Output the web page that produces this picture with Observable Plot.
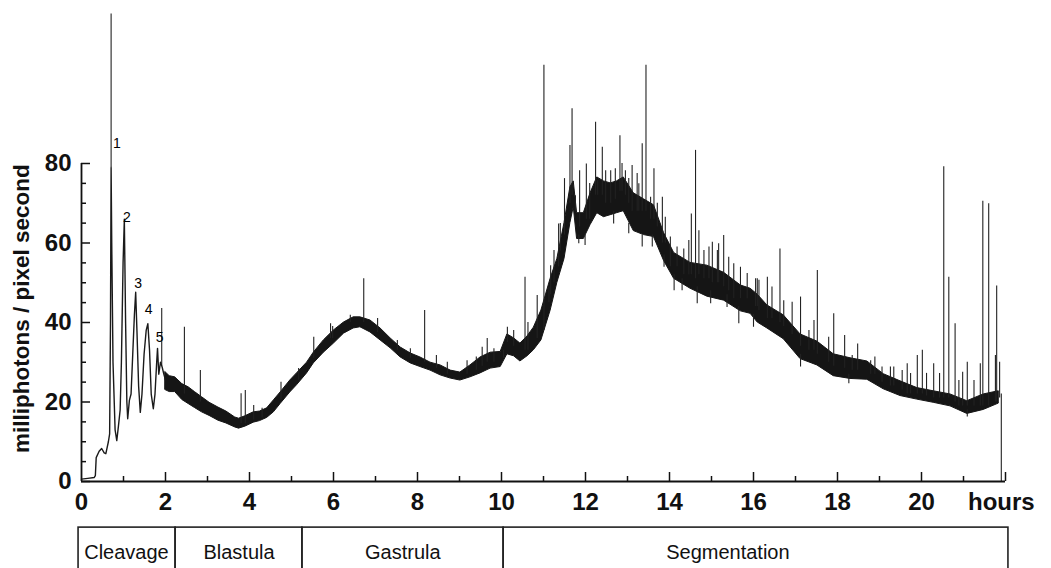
<!DOCTYPE html>
<html>
<head>
<meta charset="utf-8">
<script src="https://cdn.jsdelivr.net/npm/d3@7"></script>
<script src="https://cdn.jsdelivr.net/npm/@observablehq/plot@0.6"></script>
<style>
  html, body { margin: 0; padding: 0; background: #fff; }
  #chart svg { display: block; }
</style>
</head>
<body>
<div id="chart"></div>
<script>
// ---- Early cleavage trace (hours, milliphotons / pixel second)
const earlyHours  = [0, 0.15, 0.30, 0.33, 0.35, 0.42, 0.48, 0.54, 0.58, 0.64, 0.67, 0.69, 0.705, 0.72, 0.75, 0.80, 0.84, 0.88, 0.92, 0.95, 0.99, 1.02, 1.05, 1.08, 1.10, 1.14, 1.18, 1.22, 1.26, 1.29, 1.32, 1.36, 1.40, 1.44, 1.49, 1.54, 1.58, 1.62, 1.66, 1.71, 1.75, 1.79, 1.81, 1.84, 1.88, 1.92, 1.96, 2.00];
const earlyValues = [0.6, 0.8, 1.0, 1.5, 6.0, 7.6, 8.3, 7.2, 7.0, 10.0, 12.0, 40, 79, 60, 30, 13, 10.3, 14, 18, 30, 55, 66, 40, 20, 15.8, 20.4, 22, 32, 42, 47.6, 38, 24, 17.4, 22, 32, 38, 39.7, 33, 22, 18.3, 22, 30, 33.5, 27, 30, 28.8, 27, 25.5];

// ---- Noisy trace envelope after 2 h (lower / upper edge of the dense band)
const bandHours = [2.00, 2.10, 2.23, 2.40, 2.55, 2.70, 2.87, 3.05, 3.26, 3.45, 3.66, 3.75, 3.90, 4.10, 4.25, 4.42, 4.58, 4.74, 4.97, 5.13, 5.37, 5.53, 5.77, 6.01, 6.25, 6.48, 6.64, 6.88, 7.12, 7.36, 7.60, 7.84, 8.07, 8.31, 8.55, 8.79, 9.02, 9.26, 9.50, 9.74, 9.98, 10.14, 10.30, 10.45, 10.62, 10.77, 10.95, 11.17, 11.33, 11.50, 11.64, 11.72, 11.80, 11.96, 12.12, 12.28, 12.44, 12.60, 12.75, 12.91, 13.15, 13.39, 13.63, 13.87, 14.11, 14.50, 14.90, 15.30, 15.70, 15.93, 16.10, 16.33, 16.72, 17.12, 17.52, 17.91, 18.31, 18.71, 19.10, 19.50, 19.90, 20.29, 20.69, 21.09, 21.48, 21.84];
const bandLow   = [23.0, 22.5, 22.5, 20.5, 19.5, 18.5, 17.4, 16.5, 15.3, 14.6, 13.6, 13.3, 13.8, 14.8, 15.2, 16.0, 17.4, 19.5, 22.4, 24.2, 27.2, 29.7, 32.4, 34.7, 37.2, 38.5, 38.8, 37.5, 35.5, 33.5, 31.2, 29.7, 28.8, 27.9, 26.7, 25.9, 25.4, 26.2, 27.2, 28.4, 28.8, 32.0, 31.5, 30.2, 31.5, 33.0, 35.5, 43.0, 50.0, 56.0, 65.0, 69.0, 61.0, 61.0, 64.5, 67.5, 66.5, 67.0, 67.5, 68.0, 63.0, 62.0, 61.5, 55.5, 51.0, 48.5, 46.5, 45.5, 42.8, 42.2, 40.0, 38.5, 35.8, 30.8, 29.2, 26.5, 25.8, 25.6, 23.2, 21.5, 20.6, 19.8, 18.9, 17.0, 18.0, 19.6];
const bandHigh  = [27.5, 26.5, 26.2, 24.5, 23.7, 22.5, 21.2, 19.8, 18.6, 17.6, 16.1, 15.8, 16.4, 17.4, 17.6, 18.4, 20.4, 22.4, 25.4, 27.2, 29.9, 32.4, 35.5, 38.0, 40.0, 41.3, 41.3, 40.5, 38.5, 36.0, 33.7, 32.2, 31.2, 29.9, 29.2, 27.9, 27.4, 29.2, 31.2, 32.4, 32.6, 37.0, 36.0, 34.7, 36.5, 38.7, 43.0, 51.0, 56.0, 65.0, 74.0, 75.5, 67.5, 67.5, 72.5, 76.5, 75.5, 75.0, 75.5, 76.5, 72.5, 71.0, 69.5, 62.5, 57.5, 55.0, 54.3, 52.5, 49.3, 48.5, 47.0, 44.3, 41.8, 37.0, 35.2, 32.0, 31.0, 30.2, 27.0, 25.2, 23.5, 22.7, 21.9, 20.2, 21.9, 22.7];

// ---- Individual flashes (spikes and dips): hour, value where they leave the trace, value they reach
const spikeHours = [0.705, 1.91, 2.45, 2.83, 3.80, 3.90, 4.10, 4.30, 4.75, 5.17, 5.53, 5.93, 5.98, 6.40, 6.72, 7.05, 7.52, 7.83, 8.17, 8.45, 8.71, 9.18, 9.40, 9.54, 9.66, 9.82, 10.05, 10.14, 10.29, 10.56, 10.63, 10.85, 11.01, 11.13, 11.17, 11.25, 11.36, 11.40, 11.50, 11.63, 11.68, 11.76, 11.84, 11.86, 11.99, 12.02, 12.10, 12.24, 12.29, 12.40, 12.48, 12.60, 12.67, 12.71, 12.82, 12.87, 12.95, 13.03, 13.03, 13.11, 13.23, 13.27, 13.35, 13.35, 13.44, 13.55, 13.59, 13.63, 13.71, 13.83, 13.87, 13.90, 14.02, 14.11, 14.18, 14.30, 14.34, 14.46, 14.52, 14.62, 14.66, 14.70, 14.82, 14.94, 14.98, 15.02, 15.14, 15.17, 15.29, 15.37, 15.41, 15.53, 15.65, 15.69, 15.85, 16.00, 16.05, 16.09, 16.13, 16.33, 16.44, 16.63, 16.72, 16.92, 17.12, 17.12, 17.32, 17.44, 17.52, 17.79, 17.91, 18.17, 18.27, 18.35, 18.48, 18.79, 18.89, 19.06, 19.26, 19.34, 19.54, 19.66, 19.74, 19.90, 20.02, 20.12, 20.29, 20.43, 20.53, 20.65, 20.80, 20.89, 20.98, 21.09, 21.09, 21.25, 21.40, 21.46, 21.60, 21.76, 21.79, 21.86, 21.90];
const spikeBase  = [79, 29, 22, 20, 14.5, 14.5, 15.5, 16, 20.5, 25.5, 31, 36, 36, 40, 40, 37.5, 33, 31, 30, 28.5, 27, 27, 28, 29, 30, 30, 31, 35, 34, 33, 33, 36, 38, 45, 47, 50, 54, 58, 62, 70, 72, 68, 62, 64, 62, 66, 66, 72, 72, 72, 70, 70, 68, 71, 73, 73, 72, 70, 65, 68, 68, 68, 68, 62, 68, 66, 62, 66, 64, 60, 57, 60, 54, 52, 54, 51, 52, 52, 52, 51, 49, 52, 51, 51, 48, 50, 50, 50, 49, 47, 48, 46, 44, 46, 46, 42, 44, 44, 43, 41, 41, 40, 39, 37, 34, 32, 33, 33, 32, 30, 29, 28.5, 27, 28, 28, 27, 27, 25, 24, 24, 23, 22, 22, 22, 22, 21.5, 21, 21, 21, 21, 20, 19, 19, 19, 18, 19, 19, 19, 19, 20, 20, 21, 22];
const spikeTop   = [117.6, 43.5, 38.8, 27.9, 22.1, 22.9, 19.1, 18.4, 25, 28.4, 36.3, 39.7, 39, 41.8, 51, 41, 35.5, 33.4, 43, 31.7, 30, 30.4, 31.3, 33.8, 36, 33.4, 33, 38.8, 38, 51.4, 40, 46.8, 104.7, 48.9, 54.3, 58.1, 64.8, 64.9, 76.2, 84.5, 93.8, 71.9, 59.8, 78.2, 59.4, 79.9, 75, 90.4, 75.7, 84.1, 78.2, 78.2, 64.8, 78.7, 87.0, 80, 78.2, 76.2, 62.3, 79.5, 77.5, 74.9, 85, 59, 104.7, 71.5, 59, 78.7, 70, 71.5, 53.9, 66.5, 61.5, 48, 59, 48, 58.5, 60.6, 67.3, 83.3, 44.7, 63.1, 58.1, 59, 44.7, 60.2, 58.1, 59.8, 61.9, 43.8, 56.4, 54.8, 39.7, 53.9, 52.3, 38.8, 51, 51, 50.6, 51.4, 48.9, 58.5, 45.5, 45.1, 46.4, 28.8, 38, 40.5, 53.1, 36.3, 42.2, 36.7, 24.6, 31.7, 34.6, 30.4, 31.3, 28.8, 28.8, 28.8, 27.9, 29.6, 27.2, 31.7, 33, 27.2, 29.6, 27.2, 79.2, 51.4, 39.7, 25.4, 27.5, 30, 16.2, 25.4, 29.6, 70.5, 69.9, 31.7, 49.2, 30, 0];

// ---- Cleavage peak numbers
const peakLabels      = ["1", "2", "3", "4", "5"];
const peakLabelHours  = [0.84, 1.08, 1.35, 1.60, 1.86];
const peakLabelValues = [85, 66.5, 49.7, 43.2, 36.3];

// ---- Developmental stages
const stageNames      = ["Cleavage", "Blastula", "Gastrula", "Segmentation"];
const stageStart      = [-0.07, 2.24, 5.26, 10.05];
const stageEnd        = [2.24, 5.26, 10.05, 22.07];
const stageLabelHours = [1.07, 3.75, 7.65, 15.39];

// ---- Axes
const xMajorTicks = [2, 4, 6, 8, 10, 12, 14, 16, 18, 20, 22];
const xMinorTicks = [1, 3, 5, 7, 9, 11, 13, 15, 17, 19, 21];
const xTickLabels = ["0", "2", "4", "6", "8", "10", "12", "14", "16", "18", "20"];
const xTickLabelHours = [0, 2, 4, 6, 8, 10, 12, 14, 16, 18, 20];
const yMajorTicks = [0, 20, 40, 60, 80];
const yMinorTicks = [5, 10, 15, 25, 30, 35, 45, 50, 55, 65, 70, 75];
const yTickLabels = ["0", "20", "40", "60", "80"];
const yTitle = "milliphotons / pixel second";
const xUnit = "hours";

// ---- build tables
const early = earlyHours.map((h, i) => ({h, v: earlyValues[i]}));
const band = bandHours.map((h, i) => ({h, lo: bandLow[i], hi: bandHigh[i]}));
const spikes = spikeHours.map((h, i) => ({h, b: spikeBase[i], t: spikeTop[i]}));
const peaks = peakLabels.map((s, i) => ({s, h: peakLabelHours[i], v: peakLabelValues[i]}));
const stages = stageNames.map((n, i) => ({n, a: stageStart[i], b: stageEnd[i], c: stageLabelHours[i]}));
const xLabs = xTickLabels.map((s, i) => ({s, h: xTickLabelHours[i]}));
const yLabs = yTickLabels.map((s, i) => ({s, v: yMajorTicks[i]}));

const W = 1051, H = 568, ML = 81, MR = 46, MT = 163, MB = 87;
const frameW = W - ML - MR, frameH = H - MT - MB;
const ink = "#111";
const font = "Liberation Sans, Arial, Helvetica, sans-serif";

const chart = Plot.plot({
  width: W, height: H,
  marginLeft: ML, marginRight: MR, marginTop: MT, marginBottom: MB,
  x: {domain: [0, 22], axis: null},
  y: {domain: [0, 80], axis: null},
  style: {fontFamily: font, background: "#fff", color: ink},
  marks: [
    // data
    Plot.areaY(band, {x: "h", y1: "lo", y2: "hi", fill: "#151515", stroke: "#151515", strokeWidth: 1, curve: "linear"}),
    Plot.ruleX(spikes, {x: "h", y1: "b", y2: "t", stroke: "#222", strokeWidth: 1.1}),
    Plot.line(early, {x: "h", y: "v", stroke: "#1a1a1a", strokeWidth: 1.4, curve: "linear"}),
    Plot.text(peaks, {x: "h", y: "v", text: "s", fontSize: 14, fill: "#000"}),
    // axes lines
    Plot.ruleY([0], {x1: 0, x2: 22, stroke: ink, strokeWidth: 1.8}),
    Plot.ruleX([0], {y1: 0, y2: 80, stroke: ink, strokeWidth: 1.8}),
    Plot.tickX(xMajorTicks, {x: d => d, insetTop: frameH - 9, stroke: ink, strokeWidth: 1.5}),
    Plot.tickX(xMinorTicks, {x: d => d, insetTop: frameH - 5, stroke: ink, strokeWidth: 1.5}),
    Plot.tickY(yMajorTicks, {y: d => d, insetRight: frameW - 9, stroke: ink, strokeWidth: 1.5}),
    Plot.tickY(yMinorTicks, {y: d => d, insetRight: frameW - 5, stroke: ink, strokeWidth: 1.5}),
    // tick labels
    Plot.text(xLabs, {x: "h", y: () => 0, text: "s", dy: 21, fontSize: 24, fontWeight: "bold", fill: ink}),
    Plot.text([xUnit], {x: () => 21.9, y: () => 0, text: d => d, dy: 21, fontSize: 24, fontWeight: "bold", fill: ink}),
    Plot.text(yLabs, {x: () => 0, y: "v", text: "s", dx: -10, textAnchor: "end", fontSize: 24, fontWeight: "bold", fill: ink}),
    Plot.text([yTitle], {x: () => 0, y: () => 43.5, text: d => d, dx: -60, rotate: -90, fontSize: 22.5, fontWeight: "bold", fill: ink}),
    // stage boxes
    Plot.rect(stages, {x1: "a", x2: "b", y1: () => -11.6, y2: () => -30, fill: "none", stroke: "#222", strokeWidth: 1.6}),
    Plot.text(stages, {x: "c", y: () => 0, text: "n", dy: 71, fontSize: 20, fill: ink})
  ]
});
document.getElementById("chart").append(chart);
</script>
</body>
</html>
